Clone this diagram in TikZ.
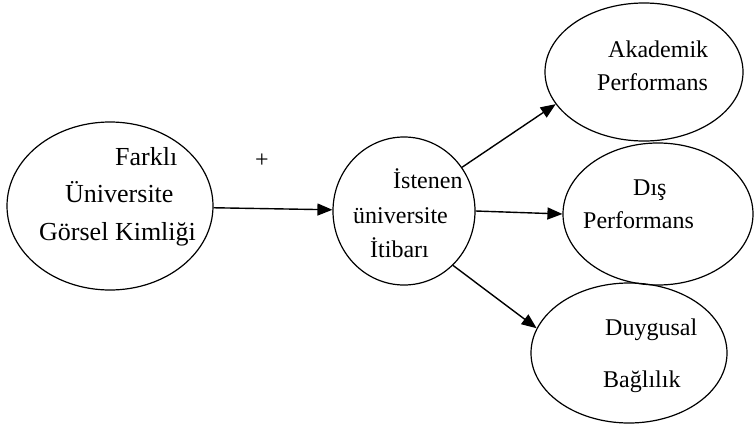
\documentclass[tikz,border=0pt]{standalone}
\usepackage{fontspec}
\setmainfont{Liberation Serif}
\usetikzlibrary{shapes.geometric,arrows.meta}
\tikzset{
  link/.style={line width=1.4pt,-{Triangle[length=15pt,width=12pt]}},
  word/.style={anchor=base west,inner sep=0pt,font=\fontsize{24}{28}\selectfont},
  bigword/.style={word,font=\fontsize{26}{30}\selectfont}
}
\begin{document}
\begin{tikzpicture}[x=1pt, y=-1pt]
            \tikzstyle{oval}=[ellipse,draw,line width=1.2pt,inner sep=0pt]
            \useasboundingbox (0,0) rectangle (755,431);
            \node[oval,minimum width=206pt,minimum height=168pt] (G) at (110,206) {};
            \node[oval,minimum width=142pt,minimum height=148pt] (I) at (404,211) {};
            \node[oval,minimum width=198pt,minimum height=138pt] (A) at (644,72)  {};
            \node[oval,minimum width=190pt,minimum height=142pt] (D) at (658,214) {};
            \node[oval,minimum width=196pt,minimum height=140pt] (B) at (629,353) {};

            \node[bigword] (G_1) at (115,165) {Farklı};
            \node[bigword] (G_2) at (65,202)  {Üniversite};
            \node[bigword] (G_3) at (39,240)  {Görsel Kimliği};
            \node[word] (I_1) at (393,188) {İstenen};
            \node[word] (I_2) at (353,223) {üniversite};
            \node[word] (I_3) at (370,257) {İtibarı};
            \node[word] (A_1) at (608,57)  {Akademik};
            \node[word] (A_2) at (597,90)  {Performans};
            \node[word] (D_1) at (633,195) {Dış};
            \node[word] (D_2) at (583,228) {Performans};
            \node[word] (B_1) at (605,335) {Duygusal};
            \node[word] (B_2) at (603,387) {Bağlılık};
            \node[word,anchor=center] (plus) at (262,161) {+};

            \draw[link] (G) -- (I);
            \draw[link] (I.37) -- (A.200);
            \draw[link] (I.0) -- (D.180);
            \draw[link] (I.-48) -- (B.165);
        \end{tikzpicture}
\end{document}
